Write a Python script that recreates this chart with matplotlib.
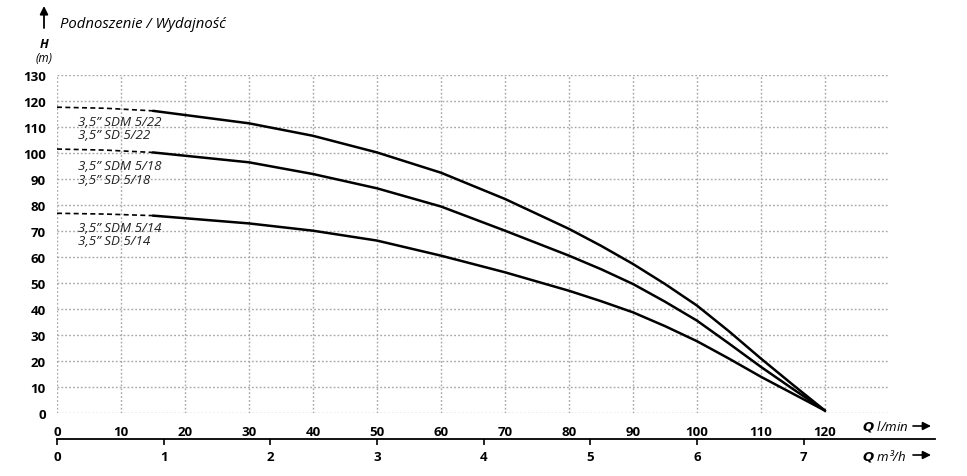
import matplotlib.pyplot as plt

plt.rcParams['font.family'] = ['Open Sans', 'DejaVu Sans']

# flow (l/min) and head (m)
q_dash = [0, 7.5, 15]
q = [15, 30, 40, 50, 60, 70, 80, 85, 90, 95, 100, 105, 110, 115, 120]

h22_dash = [117.5, 117.1, 116.1]
h22 = [116.1, 111.3, 106.5, 100.1, 92.3, 82.2, 70.7, 64.2, 57.2, 49.5, 41.2, 31.3, 20.8, 10.7, 0.8]

h18_dash = [101.4, 101.0, 100.1]
h18 = [100.1, 96.3, 91.8, 86.3, 79.3, 70.0, 60.4, 55.2, 49.5, 42.7, 35.4, 26.6, 17.6, 9.1, 0.8]

h14_dash = [76.7, 76.4, 75.8]
h14 = [75.8, 72.8, 70.0, 66.2, 60.4, 54.0, 46.9, 42.9, 38.6, 33.3, 27.5, 20.8, 13.8, 7.3, 0.8]

labels = [("3,5\u201d SDM 5/22", "3,5\u201d SD 5/22", 110.7),
          ("3,5\u201d SDM 5/18", "3,5\u201d SD 5/18", 93.7),
          ("3,5\u201d SDM 5/14", "3,5\u201d SD 5/14", 69.9)]

xticks = list(range(0, 130, 10))
yticks = list(range(0, 140, 10))
m3h_ticks = [0, 1, 2, 3, 4, 5, 6, 7]

W, H = 967, 477
fig = plt.figure(figsize=(W / 100, H / 100), dpi=100)
x0, x1, ytop, ybot = 57, 889, 75.7, 413.7
ax = fig.add_axes([x0 / W, (H - ybot) / H, (x1 - x0) / W, (ybot - ytop) / H])
ax.set_xlim(0, 130)
ax.set_ylim(0, 130)

for s in ax.spines.values():
    s.set_visible(False)

ax.set_xticks(xticks)
ax.set_yticks(yticks)
ax.grid(True, color='#a8a8a8', linestyle=(0, (1.3, 1.5)), linewidth=1.0)
ax.tick_params(length=0, labelsize=9.5, pad=8)
ax.tick_params(axis='x', pad=9)
for t in ax.get_xticklabels() + ax.get_yticklabels():
    t.set_fontweight('bold')

for hd, hs in [(h22_dash, h22), (h18_dash, h18), (h14_dash, h14)]:
    ax.plot(q_dash, hd, color='black', lw=1.2, ls=(0, (3, 2)))
    ax.plot(q, hs, color='black', lw=1.8, solid_capstyle='round', solid_joinstyle='round')

for l1, l2, yb in labels:
    ax.text(3.3, yb, l1, fontsize=9.6, style='italic', va='baseline', color='#222222')
    ax.text(3.3, yb - 5.2, l2, fontsize=9.6, style='italic', va='baseline', color='#222222')

# second flow axis in m3/h
yl = -26.5 / (ybot - ytop)
sec = ax.secondary_xaxis(yl, functions=(lambda v: v * 0.06, lambda v: v / 0.06))
sec.set_xticks(m3h_ticks)
sec.spines['bottom'].set_visible(False)
sec.tick_params(direction='out', length=4, width=1.2, labelsize=9.5, pad=4)
for t in sec.get_xticklabels():
    t.set_fontweight('bold')
ax.plot([0, (935 - x0) / (x1 - x0)], [yl, yl], transform=ax.transAxes,
        color='black', lw=1.3, clip_on=False)

# axis titles
fig.text(862 / W, 1 - 427 / H, "$\\mathbfit{Q}$ l/min", fontsize=9.5, style='italic',
         va='center', ha='left')
fig.text(862 / W, 1 - 456 / H, "$\\mathbfit{Q}$ m\u00b3/h", fontsize=9.5, style='italic',
         va='center', ha='left')
for yy in (427, 456):
    ax.annotate('', xy=(931 / W, 1 - yy / H), xytext=(913 / W, 1 - yy / H),
                xycoords='figure fraction', textcoords='figure fraction',
                arrowprops=dict(arrowstyle='-|>', color='black', lw=1.2, mutation_scale=12,
                                shrinkA=0, shrinkB=0))

ax.annotate('', xy=(44 / W, 1 - 7 / H), xytext=(44 / W, 1 - 29 / H),
            xycoords='figure fraction', textcoords='figure fraction',
            arrowprops=dict(arrowstyle='-|>', color='black', lw=1.3, mutation_scale=12,
                            shrinkA=0, shrinkB=0))
fig.text(60 / W, 1 - 25 / H, "Podnoszenie / Wydajno\u015b\u0107", fontsize=10.7, style='italic',
         va='center', ha='left')
fig.text(44 / W, 1 - 45 / H, "H", fontsize=9, style='italic', fontweight='bold',
         va='center', ha='center')
fig.text(44 / W, 1 - 58 / H, "(m)", fontsize=8.5, style='italic', va='center', ha='center')

fig.savefig('out.png', dpi=100, facecolor='white')
